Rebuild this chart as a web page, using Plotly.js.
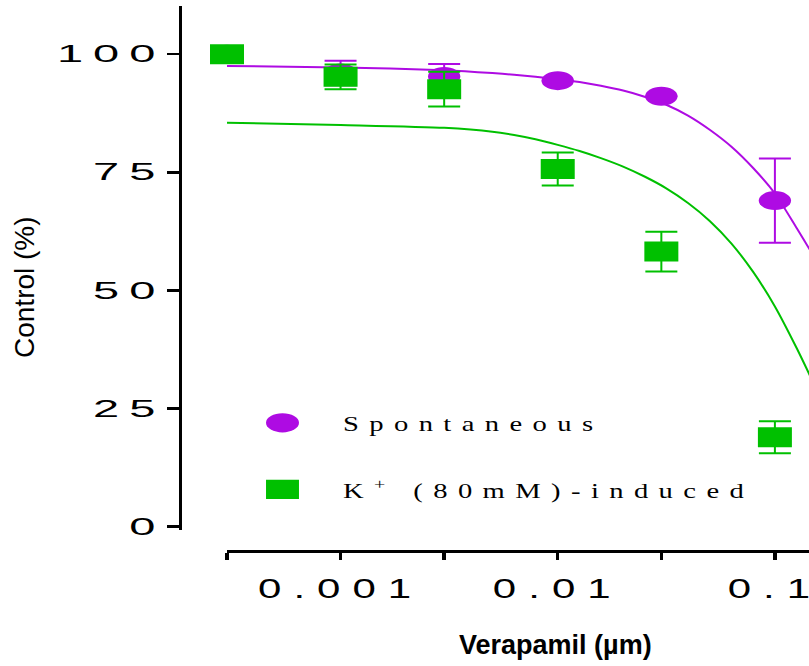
<!DOCTYPE html>
<html>
<head>
<meta charset="utf-8">
<script src="https://cdn.plot.ly/plotly-3.0.1.min.js"></script>
<style>
  html, body { margin: 0; padding: 0; background: #ffffff; overflow: hidden; }
  #chart { width: 809px; height: 666px; }
  .xtick text { letter-spacing: 8px; }
  .ytick text { letter-spacing: 5px; }
  .legendtext { letter-spacing: 8px; }
</style>
</head>
<body>
<div id="chart"></div>
<script>
// ---- data ----
const concentrations = [0.0003, 0.001, 0.003, 0.01, 0.03, 0.1];
const spontaneous    = [100, 96.0, 95.3, 94.4, 91.1, 69.0];
const spontaneousErr = [0, 2.6, 2.6, 0, 0, 8.9];
const kInduced       = [100, 95.2, 92.6, 75.7, 58.2, 18.9];
const kInducedErr    = [0, 2.6, 3.7, 3.5, 4.2, 3.4];

// fitted curves, points
const fitX           = [0.0003, 0.001, 0.003, 0.005, 0.0063, 0.0079, 0.01, 0.0126, 0.0158, 0.02, 0.0251, 0.0316, 0.0398, 0.0501, 0.0631, 0.0794, 0.1, 0.1259, 0.1466];
const spontaneousFit = [97.5, 97.2, 96.6, 96.0, 95.65, 95.2, 94.7, 94.1, 93.3, 92.3, 91.0, 89.3, 87.0, 84.0, 80.4, 75.9, 70.5, 63.2, 58.2];
const kInducedFit    = [85.5, 85.0, 84.4, 83.6, 82.9, 82.0, 80.8, 79.5, 78.0, 76.2, 74.1, 71.6, 68.5, 64.7, 59.9, 53.9, 46.6, 37.8, 31.5];

const xTickVals  = [0.001, 0.01, 0.1];
const xTickText  = ['0.001', '0.01', '0.1'];
const xMinorVals = [0.0003, 0.003, 0.03];
const yTickVals  = [0, 25, 50, 75, 100];

const seriesNames = ['Spontaneous', 'K<sup>+</sup> (80mM)-induced'];
const xTitle = 'Verapamil (µm)';
const yTitle = 'Control (%)';

const PURPLE = '#AE0BE3';
const GREEN = '#00C000';

const traces = [
  { x: fitX, y: spontaneousFit, mode: 'lines', line: { color: PURPLE, width: 2, shape: 'spline', smoothing: 0.7 },
    showlegend: false, hoverinfo: 'skip' },
  { x: fitX, y: kInducedFit, mode: 'lines', line: { color: GREEN, width: 2, shape: 'spline', smoothing: 0.7 },
    showlegend: false, hoverinfo: 'skip' },
  { x: concentrations, y: spontaneous, name: seriesNames[0], mode: 'markers', legendgroup: 'a',
    marker: { symbol: 'circle', size: 19, color: PURPLE },
    error_y: { type: 'data', array: spontaneousErr, visible: true, color: PURPLE, thickness: 2, width: 16 },
    cliponaxis: false },
  { x: concentrations, y: kInduced, name: seriesNames[1], mode: 'markers', legendgroup: 'b',
    marker: { symbol: 'square', size: 20, color: GREEN },
    error_y: { type: 'data', array: kInducedErr, visible: true, color: GREEN, thickness: 2, width: 16 },
    cliponaxis: false }
];

const W = 809, H = 666, L = 180, R = 0, T = 6, B = 115;
const plotW = W - L - R, plotH = H - T - B;

const layout = {
  width: W, height: H,
  margin: { l: L, r: R, t: T, b: B, pad: 0 },
  paper_bgcolor: '#ffffff', plot_bgcolor: '#ffffff',
  showlegend: true,
  legend: {
    x: (222 - L) / plotW, xanchor: 'left',
    y: (H - B - 402) / plotH, yanchor: 'top',
    bgcolor: 'rgba(0,0,0,0)', borderwidth: 0,
    font: { family: 'Liberation Serif, Times New Roman, serif', size: 22, color: '#000' },
    traceorder: 'grouped', tracegroupgap: 35, itemwidth: 111, itemsizing: 'trace'
  },
  xaxis: {
    type: 'log',
    domain: [(227 - L) / plotW, 1],
    range: [Math.log10(0.0003), -0.843],
    anchor: 'free', position: 0,
    showline: true, linecolor: '#000', linewidth: 2.5,
    ticks: 'outside', ticklen: 7, tickwidth: 3.5, tickcolor: '#000',
    tickmode: 'array', tickvals: xTickVals, ticktext: xTickText,
    ticklabelstandoff: 5,
    minor: { tickmode: 'array', tickvals: xMinorVals, ticks: 'outside', ticklen: 7, tickwidth: 3.5, tickcolor: '#000', showgrid: false },
    tickfont: { family: 'Liberation Sans, Arial, sans-serif', size: 28, color: '#000' },
    showgrid: false, zeroline: false
  },
  yaxis: {
    domain: [(H - B - 530) / plotH, 1],
    range: [-0.74, 110.2],
    anchor: 'free', position: 0,
    showline: true, linecolor: '#000', linewidth: 3,
    ticks: 'outside', ticklen: 12, tickwidth: 2.5, tickcolor: '#000',
    tickmode: 'array', tickvals: yTickVals,
    tickfont: { family: 'Liberation Sans, Arial, sans-serif', size: 23.5, color: '#000' },
    showgrid: false, zeroline: false
  },
  annotations: [
    { text: yTitle, xref: 'paper', yref: 'paper', x: (24 - L) / plotW, y: (H - B - 287) / plotH,
      textangle: -90, showarrow: false, xanchor: 'center', yanchor: 'middle',
      font: { family: 'Liberation Sans, Arial, sans-serif', size: 28, color: '#000' } },
    { text: xTitle, xref: 'paper', yref: 'paper', x: (555 - L) / plotW, y: (H - B - 645) / plotH,
      showarrow: false, xanchor: 'center', yanchor: 'middle',
      font: { family: 'Liberation Sans, Arial, sans-serif', size: 27, weight: 'bold', color: '#000' } }
  ]
};

function stretchText(selector, s, dx) {
  document.querySelectorAll(selector).forEach(function (t) {
    const x = parseFloat(t.getAttribute('x') || '0');
    t.setAttribute('x', x / s);
    const tr = t.getAttribute('transform') || '';
    t.setAttribute('transform', 'translate(' + (dx || 0) + ',0) ' + tr + ' scale(' + s + ',1)');
  });
}
function stretchShape(selector, sx, sy) {
  document.querySelectorAll(selector).forEach(function (p) {
    const tr = p.getAttribute('transform') || '';
    p.setAttribute('transform', tr + ' scale(' + sx + ',' + sy + ')');
  });
}

Plotly.newPlot('chart', traces, layout, { displayModeBar: false, staticPlot: true }).then(function () {
  stretchText('.xtick text', 1.5, 0);
  stretchText('.ytick text', 2.0, 3);
  stretchText('.legendtext', 1.3, 0);
  document.querySelectorAll('.legend [clip-path]').forEach(function (e) { e.removeAttribute('clip-path'); });
  stretchShape('.scatterlayer .points path', 1.7, 1);
  stretchShape('.legend .legendpoints path.scatterpts', 2.06, 1.2);
  document.querySelectorAll('svg text').forEach(function (t) {
    if (!t.textContent.trim()) t.remove();
  });
});
</script>
</body>
</html>
